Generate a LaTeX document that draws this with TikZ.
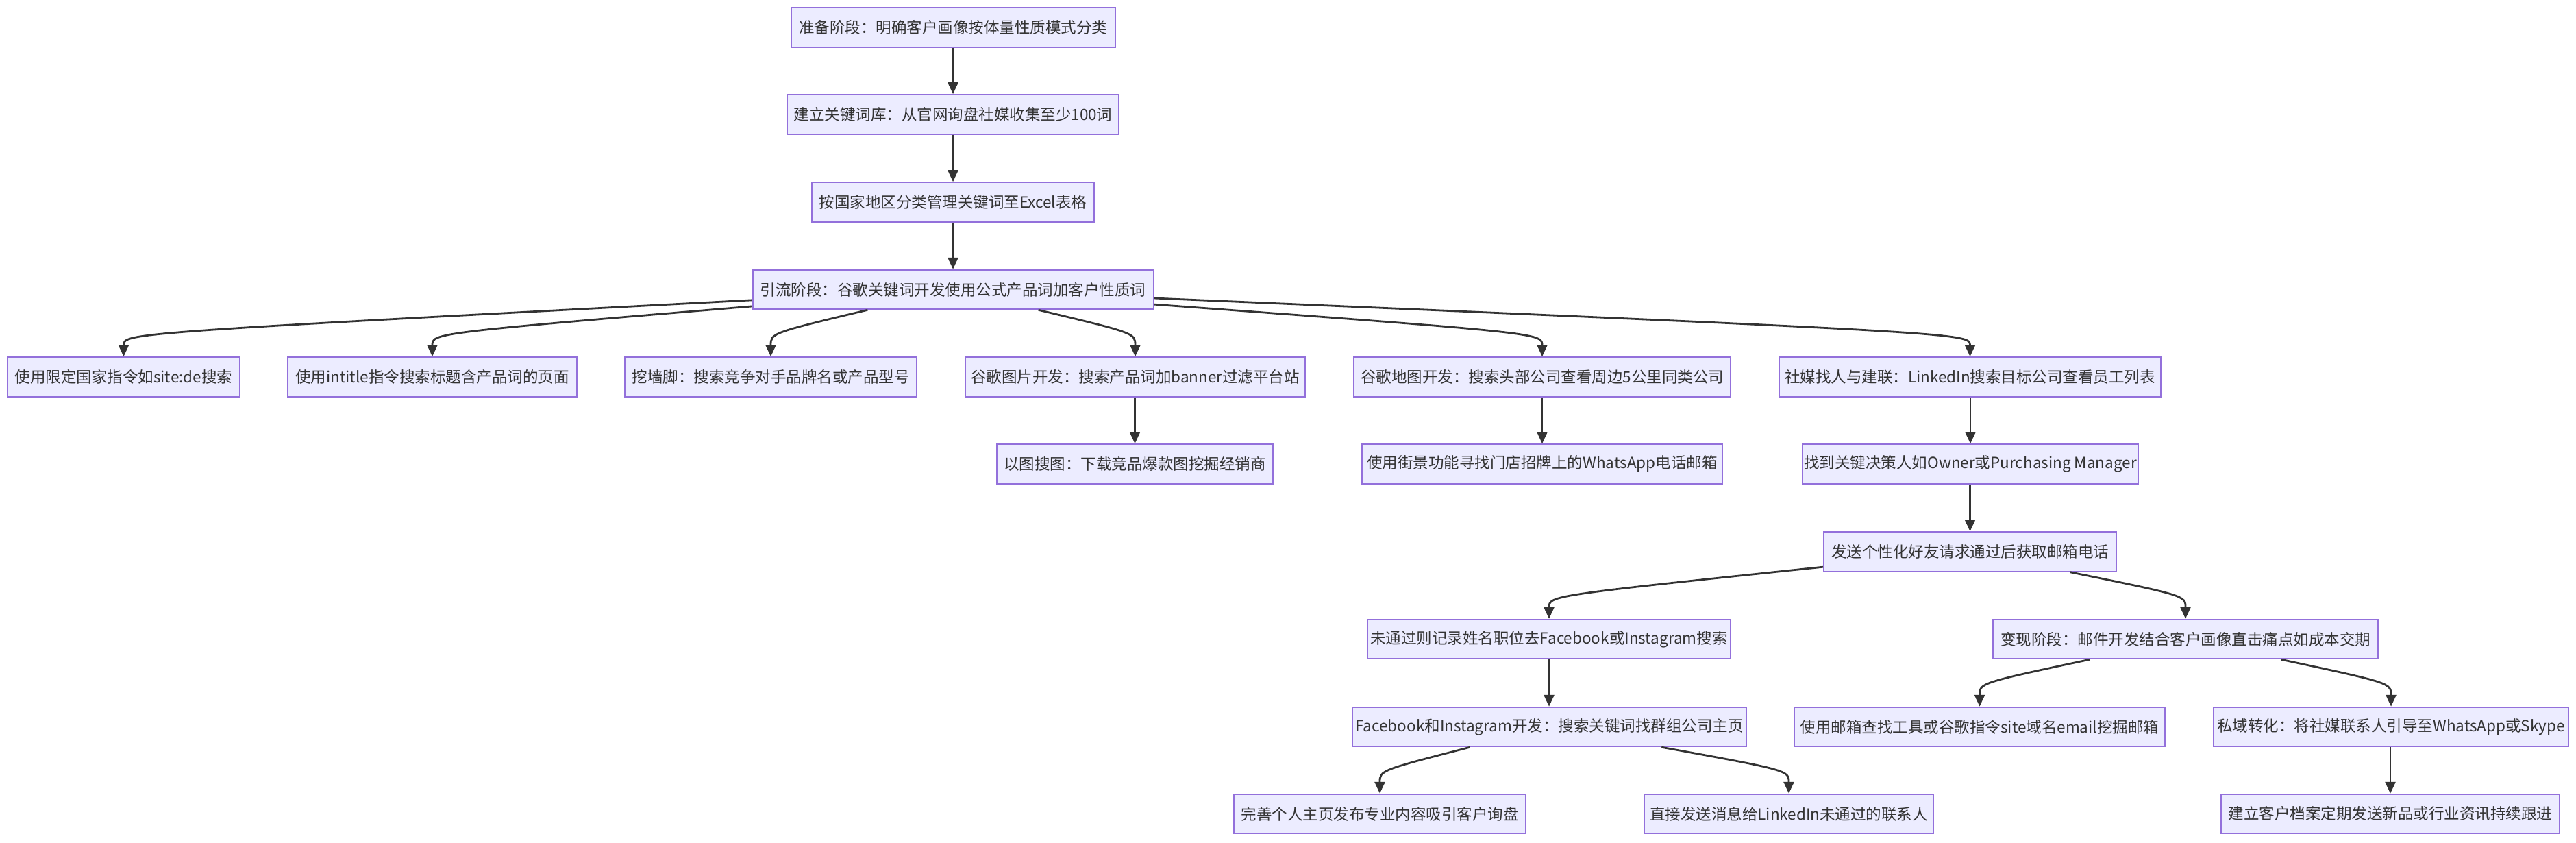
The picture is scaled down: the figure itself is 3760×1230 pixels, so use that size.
\documentclass[tikz,border=0pt]{standalone}
\usepackage{fontspec}
\setmainfont{Noto Sans CJK SC}
\usetikzlibrary{arrows.meta}
\definecolor{nfill}{HTML}{ECECFF}
\definecolor{nbord}{HTML}{9370DB}
\definecolor{ntext}{HTML}{333333}
\tikzset{
  box/.style={draw=nbord, line width=2pt, fill=nfill, text=ntext, minimum height=57.5pt,
    inner xsep=2pt, inner ysep=0pt, font=\fontsize{22.5pt}{27pt}\selectfont},
  arr/.style={draw=ntext, line width=2.8pt, -{Triangle[length=17pt,width=15pt]}},
}
\begin{document}
\begin{tikzpicture}[x=1pt,y=-1pt]
\useasboundingbox[fill=white] (0,0) rectangle (3760,1230);
% row 1-4
\node[box, minimum width=473pt] (n1) at (1391,40) {准备阶段：明确客户画像按体量性质模式分类};
\node[box, minimum width=484pt] (n2) at (1391,167) {建立关键词库：从官网询盘社媒收集至少100词};
\node[box, minimum width=412pt] (n3) at (1391,295) {按国家地区分类管理关键词至Excel表格};
\node[box, minimum width=585pt] (n4) at (1391,422.5) {引流阶段：谷歌关键词开发使用公式产品词加客户性质词};
% row 5
\node[box, minimum width=339pt] (n5) at (180.5,550) {使用限定国家指令如site:de搜索};
\node[box, minimum width=422pt] (n6) at (631,550) {使用intitle指令搜索标题含产品词的页面};
\node[box, minimum width=426pt] (n7) at (1125,550) {挖墙脚：搜索竞争对手品牌名或产品型号};
\node[box, minimum width=496pt] (n8) at (1657,550) {谷歌图片开发：搜索产品词加banner过滤平台站};
\node[box, minimum width=550pt] (n9) at (2251,550) {谷歌地图开发：搜索头部公司查看周边5公里同类公司};
\node[box, minimum width=557pt] (n10) at (2875.5,550) {社媒找人与建联：LinkedIn搜索目标公司查看员工列表};
% row 6
\node[box, minimum width=403pt] (n11) at (1656.5,677) {以图搜图：下载竞品爆款图挖掘经销商};
\node[box, minimum width=526pt] (n12) at (2251,677) {使用街景功能寻找门店招牌上的WhatsApp电话邮箱};
\node[box, minimum width=488pt] (n13) at (2876,677) {找到关键决策人如Owner或Purchasing Manager};
% row 7
\node[box, minimum width=427pt] (n14) at (2875.5,805) {发送个性化好友请求通过后获取邮箱电话};
% row 8
\node[box, minimum width=530pt] (n15) at (2261,932.5) {未通过则记录姓名职位去Facebook或Instagram搜索};
\node[box, minimum width=562pt] (n16) at (3190,932.5) {变现阶段：邮件开发结合客户画像直击痛点如成本交期};
% row 9
\node[box, minimum width=575pt] (n17) at (2261.5,1060.5) {Facebook和Instagram开发：搜索关键词找群组公司主页};
\node[box, minimum width=541pt] (n18) at (2889.5,1060.5) {使用邮箱查找工具或谷歌指令site域名email挖掘邮箱};
\node[box, minimum width=518pt] (n19) at (3490,1060.5) {私域转化：将社媒联系人引导至WhatsApp或Skype};
% row 10
\node[box, minimum width=426pt] (n20) at (2014,1187.5) {完善个人主页发布专业内容吸引客户询盘};
\node[box, minimum width=422pt] (n21) at (2611,1187.5) {直接发送消息给LinkedIn未通过的联系人};
\node[box, minimum width=494pt] (n22) at (3489,1187.5) {建立客户档案定期发送新品或行业资讯持续跟进};
% straight edges
\draw[arr] (n1) -- (n2);
\draw[arr] (n2) -- (n3);
\draw[arr] (n3) -- (n4);
\draw[arr] (n8.south -| n11.north) -- (n11.north);
\draw[arr] (n9) -- (n12);
\draw[arr] (n10.south -| n13.north) -- (n13.north);
\draw[arr] (n13.south -| n14.north) -- (n14.north);
\draw[arr] (n15) -- (n15 |- n17.north);
\draw[arr] (n19.south -| n22.north) -- (n22.north);
% curved edges
\draw[arr] (n4) .. controls (180.5,486) .. (n5.north);
\draw[arr] (n4) .. controls (631,486) .. (n6.north);
\draw[arr] (n4) .. controls (1125,486) .. (n7.north);
\draw[arr] (n4) .. controls (1657,486) .. (n8.north);
\draw[arr] (n4) .. controls (2251,486) .. (n9.north);
\draw[arr] (n4) .. controls (2875.5,486) .. (n10.north);
\draw[arr] (n14) .. controls (2261,869) .. (n15.north);
\draw[arr] (n14) .. controls (3190,869) .. (n16.north);
\draw[arr] (n16) .. controls (2889.5,996.5) .. (n18.north);
\draw[arr] (n16) .. controls (3490,996.5) .. (n19.north);
\draw[arr] (n17) .. controls (2014,1124) .. (n20.north);
\draw[arr] (n17) .. controls (2611,1124) .. (n21.north);
\end{tikzpicture}
\end{document}
